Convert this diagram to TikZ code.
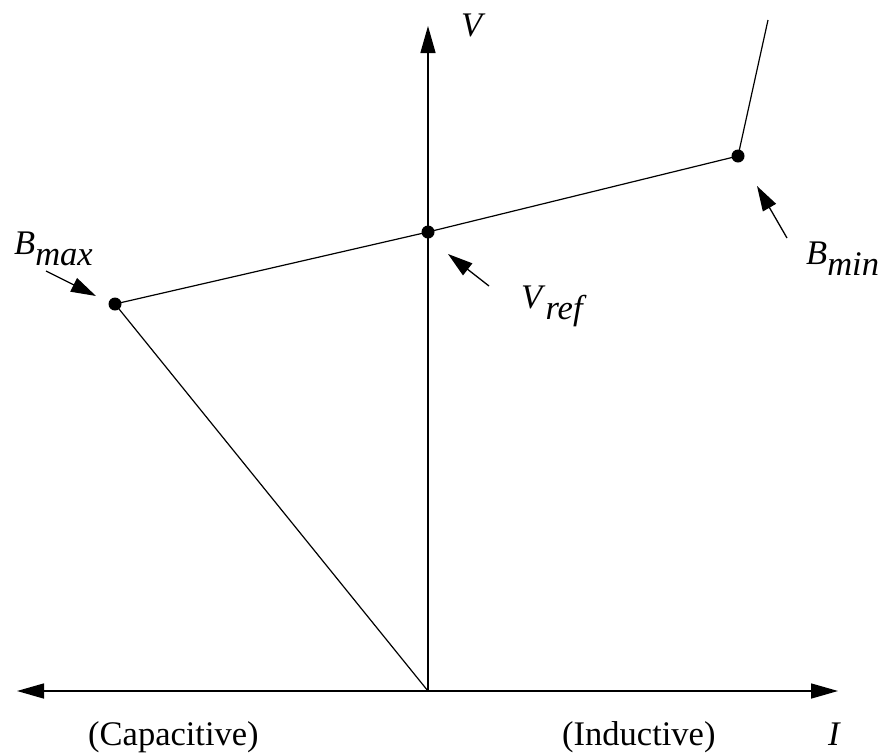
\documentclass[tikz,border=0pt]{standalone}
\usepackage{fontspec}
\setmainfont{Liberation Serif}
\usetikzlibrary{arrows.meta}
\begin{document}
\begin{tikzpicture}[x=1pt,y=-1pt,
  axis/.style={line width=1.5pt,-{Triangle[length=27pt,width=15pt]}},
  curve/.style={line width=1.2pt},
  pointer/.style={line width=1.3pt,-{Triangle[length=25pt,width=15pt]}},
  dot/.style={circle,fill=black,inner sep=0pt,minimum size=13pt},
  lbl/.style={inner sep=0pt,anchor=base west,font=\fontsize{34.5}{40}\selectfont}]
\useasboundingbox (0,0) rectangle (883,753);
% axes
\coordinate (O) at (428,691);
\coordinate (Ltip) at (17,691);
\coordinate (Rtip) at (838,691);
\coordinate (Vtip) at (428,26);
\draw[axis] (O) -- (Ltip);
\draw[axis] (O) -- (Rtip);
\draw[axis] (O) -- (Vtip);
% characteristic
\node[dot] (bmax) at (115,304) {};
\node[dot] (vref) at (428,232) {};
\node[dot] (bmin) at (738,156) {};
\coordinate (top) at (768,20);
\draw[curve] (O) -- (bmax.center) -- (vref.center) -- (bmin.center) -- (top);
% labels
\node[lbl] (Vl) at (461,36) {\textit{V}};
\node[lbl] (Bmaxl) at (14,254) {\textit{B}\raisebox{-11pt}{\textit{max}}};
\node[lbl] (Vrefl) at (521,308) {\textit{V}\raisebox{-11pt}{\textit{ref}}};
\node[lbl] (Bminl) at (806,264) {\textit{B}\raisebox{-11pt}{\textit{min}}};
\node[lbl] (cap) at (88,745) {(Capacitive)};
\node[lbl] (ind) at (562,745) {(Inductive)};
\node[lbl] (Il) at (828,745) {\textit{I}};
% pointers
\coordinate (p1a) at (46,271); \coordinate (p1b) at (96,296);
\coordinate (p2a) at (489,286); \coordinate (p2b) at (448,254);
\coordinate (p3a) at (787,238); \coordinate (p3b) at (757,186);
\draw[pointer] (p1a) -- (p1b);
\draw[pointer] (p2a) -- (p2b);
\draw[pointer] (p3a) -- (p3b);
\end{tikzpicture}
\end{document}
